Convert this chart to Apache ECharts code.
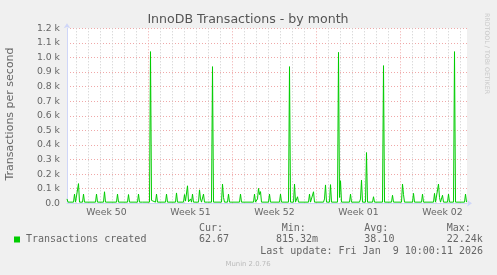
<!DOCTYPE html>
<html>
<head>
<meta charset="utf-8">
<script src="https://cdn.jsdelivr.net/npm/echarts@6/dist/echarts.min.js"></script>
<style>
html,body{margin:0;padding:0;background:#F0F0F0;}
#chart{width:497px;height:275px;}
</style>
</head>
<body>
<div id="chart"></div>
<script>
// Time axis: hours since the left edge of the graph (2 hours per pixel, 800 h shown)
var timeHours = [0,2,13,15,17,21,23,25,31,33,35,57,59,61,73,75,77,99,101,103,121,123,125,141,143,145,151,153,155,
  165,167,169,171,177,179,181,197,199,201,217,219,221,233,235,237,239,241,243,245,247,249,251,253,263,265,267,269,271,273,275,277,279,281,
  289,291,293,309,311,313,315,321,323,325,345,347,349,373,375,377,381,383,385,387,389,403,405,407,425,427,429,
  443,445,447,453,455,457,459,461,463,483,485,487,489,491,493,495,513,515,517,519,525,527,529,541,543,545,547,549,
  565,567,569,585,587,589,591,597,599,601,611,613,615,631,633,635,649,651,653,669,671,673,675,691,693,695,709,711,713,
  733,735,737,741,743,745,747,749,751,753,761,763,765,773,775,777,795,797,799];
var transactions = [30,8,8,63,8,8,135,8,8,63,8,8,63,8,8,79,8,8,63,8,8,60,8,8,63,8,8,20,8,
  8,1040,20,8,8,63,8,8,63,8,8,71,8,8,60,15,20,120,10,8,30,8,63,8,8,92,30,8,8,63,8,8,20,8,
  8,937,8,8,132,40,8,8,63,8,8,63,8,8,63,8,30,102,60,80,8,8,63,8,8,63,8,
  8,937,8,8,132,8,8,45,8,8,63,8,8,20,79,8,8,30,126,8,8,128,8,8,1035,40,155,8,
  8,63,8,8,30,159,8,8,348,8,8,45,8,8,944,8,8,55,8,8,132,60,8,8,68,8,8,63,8,
  8,68,8,8,132,40,8,15,55,8,8,63,8,8,1040,8,8,63,8];

var weekLabels = ['Week 50','Week 51','Week 52','Week 01','Week 02'];
var weekLabelHours = [79,247,415,583,751];   // middle of each week
var weekStartHours = [163,331,499,667];      // major grid (week boundaries)
var firstMidnightHour = 19;                  // first day boundary after left edge

var legendName = 'Transactions created';
var statNames = ['Cur:','Min:','Avg:','Max:'];
var statValues = ['62.67','815.32m','38.10','22.24k'];
var lastUpdate = 'Last update: Fri Jan  9 10:00:11 2026';

var seriesData = timeHours.map(function(h,i){ return [h, transactions[i]]; });
var dayLines = [];
for (var h = firstMidnightHour; h < 800; h += 24) {
  if (weekStartHours.indexOf(h) < 0) dayLines.push({xAxis: h});
}
var weekLines = weekStartHours.map(function(h){ return {xAxis: h}; });

var SANS = 'DejaVu Sans', MONO = 'DejaVu Sans Mono';
var FONT = '#666666';

var chart = echarts.init(document.getElementById('chart'), null, {renderer:'canvas'});
var statX = [199, 281.7, 364.3, 446.7];
var valX = [199, 276, 364.3, 446.7];
var graphics = [
  {type:'text', x:248, y:20, style:{text:'InnoDB Transactions - by month', font:'12.6px "DejaVu Sans"', fill:'#555', align:'center', verticalAlign:'middle'}},
  {type:'text', x:10.5, y:114, rotation:Math.PI/2, style:{text:'Transactions per second', font:'11px "DejaVu Sans"', fill:FONT, align:'center', verticalAlign:'middle'}},
  {type:'text', x:487, y:53.5, rotation:-Math.PI/2, style:{text:'RRDTOOL / TOBI OETIKER', font:'6.3px "DejaVu Sans"', fill:'#c8c8c8', align:'center', verticalAlign:'middle'}},
  {type:'rect', shape:{x:14, y:236.5, width:6, height:6}, style:{fill:'#00cc00'}},
  {type:'text', x:26, y:239.5, style:{text:legendName, font:'10px "DejaVu Sans Mono"', fill:FONT, align:'left', verticalAlign:'middle'}},
  {type:'text', x:483, y:251, style:{text:lastUpdate, font:'10px "DejaVu Sans Mono"', fill:FONT, align:'right', verticalAlign:'middle'}},
  {type:'text', x:248, y:264.3, style:{text:'Munin 2.0.76', font:'6.9px "DejaVu Sans"', fill:'#bbbbbb', align:'center', verticalAlign:'middle'}}
];
statNames.forEach(function(s,i){
  graphics.push({type:'text', x:statX[i], y:228.3, style:{text:s, font:'10px "DejaVu Sans Mono"', fill:FONT, align:'left', verticalAlign:'middle'}});
  graphics.push({type:'text', x:valX[i], y:239.5, style:{text:statValues[i], font:'10px "DejaVu Sans Mono"', fill:FONT, align:'left', verticalAlign:'middle'}});
});

chart.setOption({
  animation:false,
  backgroundColor:'#F0F0F0',
  grid:{left:67, top:28.3, width:400, height:175, show:true, backgroundColor:'#FFFFFF', borderWidth:0},
  xAxis:{
    type:'value', min:0, max:800,
    axisLine:{show:true, lineStyle:{color:'#CFD6F8', width:1}, symbol:['none','arrow'], symbolSize:[5,5], symbolOffset:[0,5]},
    axisTick:{show:false},
    splitLine:{show:false},
    axisLabel:{
      customValues: weekLabelHours,
      formatter:function(v){ var i = weekLabelHours.indexOf(v); return i>=0 ? weekLabels[i] : ''; },
      color:FONT, fontFamily:SANS, fontSize:9.3, margin:5
    }
  },
  yAxis:{
    type:'value', min:0, max:1200, interval:100,
    axisLine:{show:true, lineStyle:{color:'#CFD6F8', width:1}, symbol:['none','arrow'], symbolSize:[5,5], symbolOffset:[0,5]},
    axisTick:{show:false},
    splitLine:{show:true, lineStyle:{color:'#F0A8A8', type:[1,2], width:1}},
    axisLabel:{
      formatter:function(v){ return v===0 ? '0.0' : (v/1000).toFixed(1)+' k'; },
      color:FONT, fontFamily:SANS, fontSize:9.3, margin:7
    }
  },
  series:[
    {type:'line', z:1, silent:true, data:[[0,0]], symbol:'none', lineStyle:{opacity:0},
      markLine:{silent:true, symbol:['none','none'], label:{show:false}, animation:false,
        lineStyle:{color:'#CCCCCC', type:[1,2], width:1}, emphasis:{disabled:true},
        data: dayLines}},
    {type:'line', z:1, silent:true, data:[[0,0]], symbol:'none', lineStyle:{opacity:0},
      markLine:{silent:true, symbol:['none','none'], label:{show:false}, animation:false,
        lineStyle:{color:'#F0A8A8', type:[1,2], width:1}, emphasis:{disabled:true},
        data: weekLines}},
    {type:'line', z:5, name:legendName, data:seriesData, symbol:'none', showSymbol:false,
      lineStyle:{color:'#00CC00', width:1}, itemStyle:{color:'#00CC00'}, clip:true}
  ],
  graphic: graphics
});
</script>
</body>
</html>
